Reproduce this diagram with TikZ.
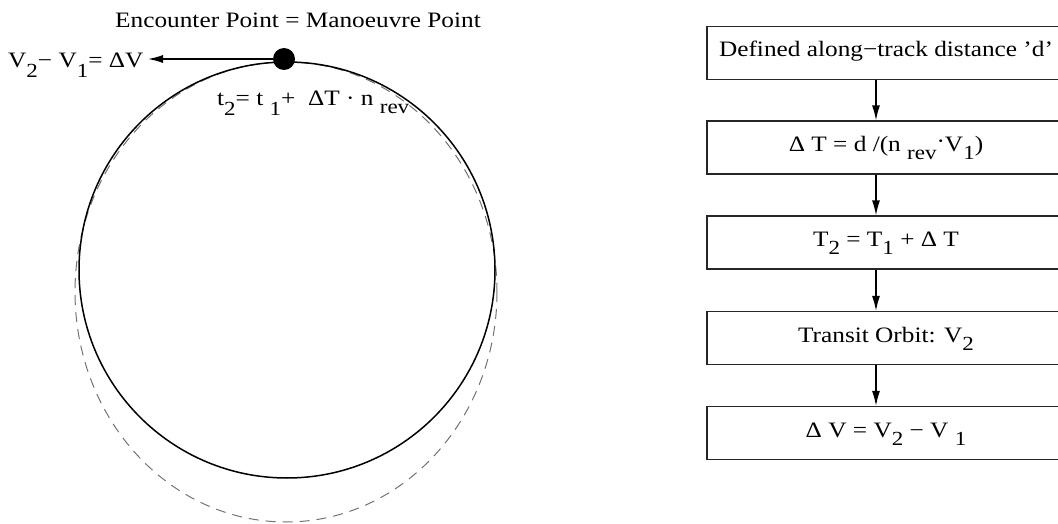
\documentclass[tikz,border=0pt]{standalone}
\usepackage{fontspec}
\setmainfont[FakeStretch=1.15]{Liberation Serif}
\usetikzlibrary{arrows.meta}
\newcommand\lowsub[2][10]{\raisebox{-#1pt}{\fontsize{20}{20}\selectfont #2}}
\begin{document}
\begin{tikzpicture}[x=1pt,y=-1pt,
  lbl/.style={inner sep=0pt, font=\fontsize{22}{26}\selectfont},
  flowbox/.style={draw=black!85, line width=1.2pt, minimum width=358pt, minimum height=53pt,
    inner sep=0pt, text height=14pt, text depth=6pt, font=\fontsize{22}{26}\selectfont},
  flowarrow/.style={-{Latex[length=15pt,width=8pt]}, line width=1.3pt},
  orbit/.style={line width=1.5pt},
  transfer/.style={black!55, line width=1pt, dash pattern=on 10pt off 7pt}]
\useasboundingbox (0,0) rectangle (1058,524);
\clip (0,0) rectangle (1058,524);
% orbits
\draw[transfer] (286,292) ellipse [x radius=211, y radius=230];
\draw[orbit] (287,270) circle [radius=208];
% manoeuvre point
\node[circle, fill, inner sep=0pt, minimum size=22pt] (enc) at (284,59) {};
\node[lbl, anchor=base] (title) at (298,28) {Encounter Point = Manoeuvre Point};
\node[lbl, anchor=base west] (dv) at (8,68) {V\lowsub{2}− V\lowsub{1}= ΔV};
\coordinate (dvtip) at (148,59);
\draw[flowarrow] (enc.west) -- (dvtip);
\node[lbl, anchor=base west] (t2) at (217,106) {t\lowsub{2}= t \lowsub{1}+ \ ΔT · n \lowsub[8]{rev}};
% flow chart
\node[flowbox] (b1) at (886,53) {Defined along−track distance ’d’};
\node[flowbox] (b2) at (886,147.5) {Δ T = d /(n \lowsub[8]{rev}\raisebox{3pt}{·}V\lowsub[8]{1})};
\node[flowbox] (b3) at (886,242.5) {T\lowsub[8]{2} = T\lowsub[8]{1} + Δ T};
\node[flowbox] (b4) at (886,338) {Transit Orbit: V\lowsub[8]{2}};
\node[flowbox] (b5) at (886,433) {Δ V = V\lowsub[8]{2} − V \lowsub[8]{1}};
\foreach \a/\b in {b1/b2,b2/b3,b3/b4,b4/b5}
  \draw[flowarrow] ([xshift=-10pt]\a.south) -- ([xshift=-10pt]\b.north);
\end{tikzpicture}
\end{document}
